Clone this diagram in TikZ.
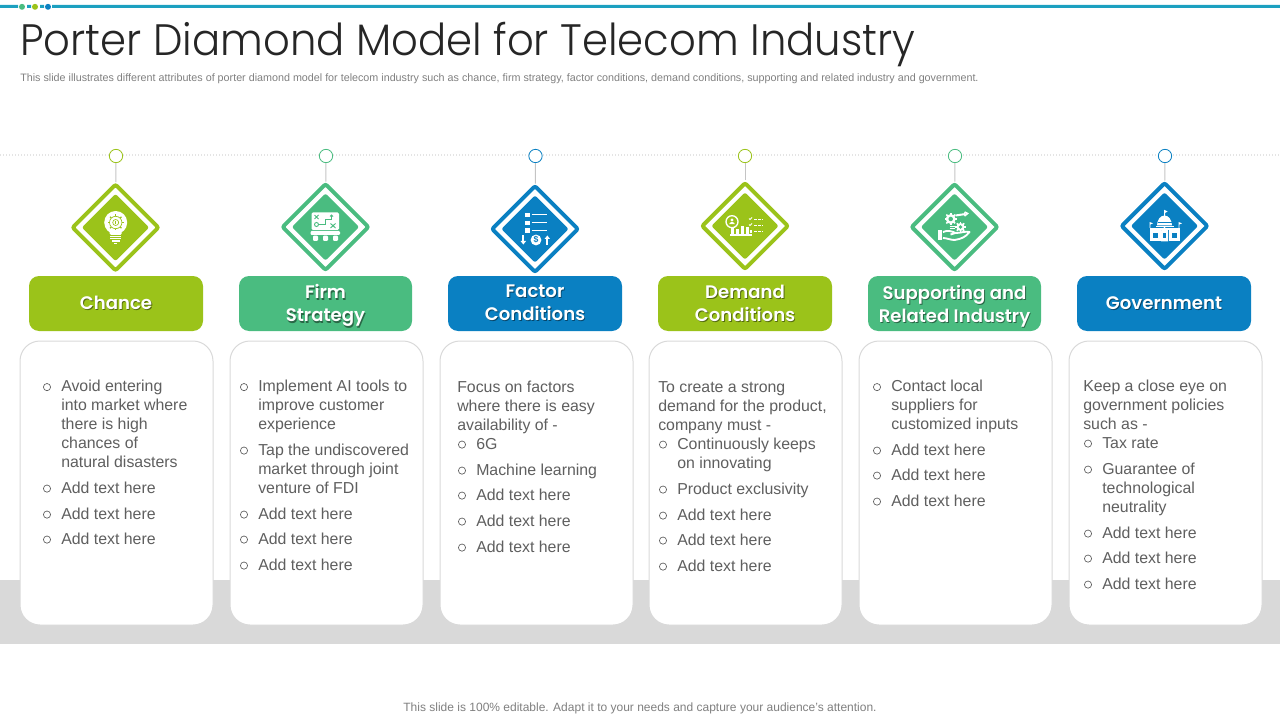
\documentclass[tikz,border=0pt]{standalone}
\usepackage{fontspec}
\usetikzlibrary{shapes.geometric}
\setmainfont{Liberation Sans}
\newfontfamily\titlefont[UprightFont={* Light},FakeStretch=0.95]{Poppins}
\newfontfamily\labelfont[UprightFont={* SemiBold}]{Poppins}
\definecolor{cg}{HTML}{9BC31A}
\definecolor{ct}{HTML}{4ABC80}
\definecolor{cb}{HTML}{0A80C2}
\definecolor{bodyc}{HTML}{5F5F5F}
\definecolor{noteg}{HTML}{7F7F7F}
\definecolor{band}{HTML}{D9D9D9}
\definecolor{bar}{HTML}{1CA0C0}
\definecolor{linkc}{HTML}{C4C4C4}
\tikzset{
  pin/.style={circle,draw=#1,fill=white,line width=.6pt,minimum size=10pt,inner sep=0pt},
  link/.style={draw=linkc,line width=.75pt},
  ring/.style={diamond,draw=#1,fill=white,line width=3pt,rounded corners=1.5pt,minimum width=65.5pt,minimum height=65.5pt,inner sep=0pt},
  core/.style={diamond,fill=#1,rounded corners=1.5pt,minimum width=50.5pt,minimum height=50.5pt,inner sep=0pt},
  labelbox/.style={fill=#1,rounded corners=7.5pt,inner sep=0pt,text=white,align=center,font=\labelfont\fontsize{13.6}{17.25}\selectfont},
  card/.style={draw=band,fill=white,line width=.75pt,rounded corners=15pt},
  bodytxt/.style={anchor=base west,inner sep=0pt,text=bodyc,font=\fontsize{11.9}{14.25}\selectfont},
  bulletmark/.style={circle,draw=bodyc,line width=.5pt,minimum size=5.4pt,inner sep=0pt},
  inkline/.style={draw=white,line width=1pt},
}
\newcommand{\shad}[2]{\leavevmode\rlap{\raisebox{-.9pt}{\hspace{.7pt}\textcolor{#1!55!black}{#2}}}#2}
\newcommand{\tallline}{\rule{0pt}{15pt}}
\newcommand{\para}[4]{\node[bodytxt] (#1) at (#2,#3) {\parbox[t]{150pt}{\raggedright #4}};}
\newcommand{\itm}[4]{\node[bulletmark] (b#1) at (#2,#3-4.4) {};
  \node[bodytxt] (#1) at (#2+14,#3) {\parbox[t]{150pt}{\raggedright #4}};}
\newcommand{\column}[8]{%
  % id, pin x, diamond x, diamond y, colour, box left, box right, label
  \node[pin=#5] (pin#1) at (#2,156) {};
  \node[ring=#5] (dia#1) at (#3,#4) {};
  \node[core=#5] (core#1) at (#3,#4) {};
  \draw[link] (pin#1) -- (dia#1);
  \node[labelbox=#5,minimum width={(#7-#6)*.75pt},minimum height=41.25pt] (lab#1) at ({(#6+#7)/2},303.5) {#8};
}
\newcommand{\gearicon}[5]{% x y r ring colour hole colour
  \foreach \a in {0,45,...,315}
    \draw[draw=#4,line width=1.2pt] ({#1+(#3-1)*cos(\a)},{#2+(#3-1)*sin(\a)}) -- ({#1+(#3+1.2)*cos(\a)},{#2+(#3+1.2)*sin(\a)});
  \fill[#4] (#1,#2) circle[radius=#3];
  \fill[#5] (#1,#2) circle[radius=#3*.45];
}
\begin{document}
\begin{tikzpicture}[x=.75pt,y=-.75pt]
\useasboundingbox (0,0) rectangle (1280,720);
% band and header
\fill[band] (0,580) rectangle (1280,644);
\fill[bar] (0,5) rectangle (18,8) (52,5) rectangle (1280,8);
\fill[bar] (27,5) rectangle (31,8) (40,5) rectangle (44,8);
\fill[ct] (22,6.8) circle[radius=3];
\fill[cg] (35,6.8) circle[radius=3];
\fill[cb] (48,6.8) circle[radius=3];
\draw[band!70,line width=1.5pt,dash pattern=on .75pt off 1.5pt] (0,155.5) -- (1280,155.5);
\node[anchor=base west,inner sep=0pt,text=black!85,font=\titlefont\fontsize{33}{36}\selectfont] (title) at (20,56) {Porter Diamond Model for Telecom Industry};
\node[anchor=base west,inner sep=0pt,text=noteg,font=\fontsize{8.06}{9}\selectfont] (sub) at (20,82) {This slide illustrates different attributes of porter diamond model  for telecom industry such as chance, firm strategy, factor conditions, demand conditions, supporting and related industry and government.};
\node[inner sep=0pt,text=noteg,font=\fontsize{9}{11}\selectfont] (foot) at (640,708.5) {This slide is 100\% editable. Adapt it to your needs and capture your audience's attention.};
% cards
\draw[card] (20,341) rectangle (213,625);
\draw[card] (230,341) rectangle (423,625);
\draw[card] (440,341) rectangle (633,625);
\draw[card] (649,341) rectangle (842,625);
\draw[card] (859,341) rectangle (1052,625);
\draw[card] (1069,341) rectangle (1262,625);
% columns
\column{A}{116}{115.5}{227.5}{cg}{29}{203}{\shad{cg}{Chance}}
\column{B}{326}{325.5}{227}{ct}{239}{412}{\tallline\shad{ct}{Firm}\\\shad{ct}{Strategy}}
\column{C}{535.5}{535}{229}{cb}{448}{622}{\shad{cb}{Factor}\\\shad{cb}{Conditions}}
\column{D}{745}{745}{226}{cg}{658}{832}{\shad{cg}{Demand}\\\shad{cg}{Conditions}}
\column{E}{955}{954.5}{227}{ct}{868}{1041}{\tallline\shad{ct}{Supporting and}\\\shad{ct}{Related Industry}}
\column{F}{1165}{1164.5}{226}{cb}{1077}{1251}{\shad{cb}{Government}}
% icon: bulb
\begin{scope}[shift={(115.7,227)}]
  \fill[white] (0,-4.5) circle[radius=11.5];
  \fill[white,rounded corners=1pt] (-6,2) rectangle (6,8);
  \foreach \a in {0,45,...,315}
    \draw[cg,line width=.9pt] ({5.5*cos(\a)},{-4.5+5.5*sin(\a)}) -- ({8*cos(\a)},{-4.5+8*sin(\a)});
  \fill[white] (0,-4.5) circle[radius=6.2];
  \draw[cg,line width=.5pt] (0,-4.5) circle[radius=6.2] (0,-4.5) circle[radius=3];
  \draw[cg,line width=.5pt] (0,-6) -- (0,-3);
  \fill[white] (-5.5,8.6) rectangle (5.5,10);
  \fill[white] (-5.5,11) rectangle (5.5,12.4);
  \fill[white] (-4,13.4) rectangle (4,14.8);
  \fill[white] (-1.7,15.6) rectangle (1.7,16.8);
\end{scope}
% icon: strategy board
\begin{scope}[shift={(325.5,227)}]
  \fill[white,rounded corners=1pt] (-14,-14.5) rectangle (13.5,3);
  \draw[ct,line width=.7pt] (-11,-12) -- (-7,-8) (-7,-12) -- (-11,-8);
  \draw[ct,line width=.7pt] (-9,-2.5) circle[radius=2];
  \draw[ct,line width=.7pt] (-6.5,-2.5) -- (0,-2.5) -- (0,-8) -- (6,-8);
  \draw[ct,line width=.7pt] (6,-12) -- (6,-7) (4.5,-10.5) -- (6,-12) -- (7.5,-10.5);
  \draw[ct,line width=.7pt] (5,-3.5) -- (10,1) (10,-3.5) -- (5,1);
  \fill[white,rounded corners=.8pt] (-15,4) rectangle (14.5,8);
  \fill[white,rounded corners=.8pt] (-12.5,8.6) rectangle (-7.5,14);
  \fill[white,rounded corners=.8pt] (-2.5,8.6) rectangle (2.5,14);
  \fill[white,rounded corners=.8pt] (7.5,8.6) rectangle (12.5,14);
\end{scope}
% icon: checklist and coin
\begin{scope}[shift={(535,229)}]
  \fill[white] (-10,-16.3) rectangle (-5,-11.7);
  \fill[white] (-10,-8) rectangle (-5,-3.6);
  \fill[white] (-10,-.7) rectangle (-5,3.7);
  \draw[inkline] (-3.3,-14.7) -- (11.7,-14.7) (-3.3,-6.7) -- (11.7,-6.7) (-3.3,1.7) -- (11.7,1.7);
  \fill[white] (1,11) circle[radius=5.4];
  \node[inner sep=0pt,text=cb,font=\bfseries\fontsize{6.5}{7}\selectfont] (coin) at (1,11) {\$};
  \draw[inkline,line width=1.3pt] (-11.7,6) -- (-11.7,13);
  \fill[white] (-14.5,12) -- (-8.9,12) -- (-11.7,15.5) -- cycle;
  \draw[inkline,line width=1.3pt] (12.3,9) -- (12.3,16);
  \fill[white] (9.5,10) -- (15.1,10) -- (12.3,6.5) -- cycle;
\end{scope}
% icon: demand
\begin{scope}[shift={(745,226)}]
  \draw[white,line width=1pt] (-13,-4.3) circle[radius=6];
  \fill[white] (-13,-6) circle[radius=1.7];
  \fill[white] (-15.8,-1.8) arc[start angle=180,end angle=360,x radius=2.8,y radius=2.2] -- cycle;
  \fill[white] (-14.5,2) rectangle (-11,9);
  \fill[white] (-9.5,3) rectangle (-6,9);
  \fill[white] (-4.5,0) rectangle (-1,9);
  \fill[white] (.5,1) rectangle (4,9);
  \fill[white] (-15,8.4) rectangle (7,9.6);
  \draw[white,line width=.6pt] (4,-7.5) -- (5,-6.5) -- (7,-8.5);
  \draw[white,line width=.6pt] (4,-1.5) -- (5,-.5) -- (7,-2.5);
  \fill[white] (4.5,4.5) rectangle (7,6.8);
  \draw[white,line width=.6pt,dash pattern=on 2pt off 1pt] (9,-7) -- (18,-7) (9,-1) -- (18,-1) (9,5.7) -- (18,5.7);
\end{scope}
% icon: hand and gears
\begin{scope}[shift={(954.5,227)}]
  \gearicon{-3.8}{-8}{5}{white}{ct}
  \draw[white,line width=1.5pt] (1,-11.5) -- (11,-13);
  \draw[white,line width=1.2pt] (10,-15) -- (13,-13.5) -- (10,-11);
  \gearicon{6}{0}{4}{white}{ct}
  \draw[white,line width=.6pt] (-5,-.5) -- (0,-.5) (-5,1.5) -- (0,1.5);
  \fill[white] (-16.5,3.5) rectangle (-12.5,13.5);
  \draw[white,line width=1.4pt,line join=round] (-11.5,5) .. controls (-7,3) and (-3,4) .. (1,6) -- (-4,7.5) (1,6) .. controls (7,6) and (10,4) .. (15,5) .. controls (11,10) and (7,12) .. (0,13) .. controls (-4,13) and (-8,11) .. (-11.5,11);
\end{scope}
% icon: government
\begin{scope}[shift={(1164.5,226)}]
  \fill[white] (0,-16) -- (3,-14.5) -- (.5,-13) -- (.5,-9) -- (-.5,-9) -- (-.5,-16) -- cycle;
  \fill[white] (-7.5,-.5) arc[start angle=180,end angle=360,x radius=7.5,y radius=10] -- cycle;
  \draw[cb,line width=.5pt] (-7,-4) -- (7,-4);
  \fill[white] (-9,.3) rectangle (9,1.5);
  \fill[white] (-15,2.3) rectangle (15.5,3.8);
  \fill[white] (-15,4.5) rectangle (-4,15.5);
  \fill[white] (4,4.5) rectangle (15.5,15.5);
  \fill[white] (-3.5,15.5) -- (-3.5,4.5) -- (0,.8) -- (3.5,4.5) -- (3.5,15.5) -- cycle;
  \fill[cb] (-12,7.5) rectangle (-7,12.5);
  \fill[cb] (7,7.5) rectangle (12.5,12.5);
  \fill[cb] (-1.7,7.5) rectangle (1.7,12.5);
  \fill[white] (-15,-4) -- (-15,2) -- (-14.2,2) -- (-14.2,-1.5) -- (-11.5,-2.7) -- cycle;
  \fill[white] (14,-4) -- (14,2) -- (14.8,2) -- (14.8,-1.5) -- (17.5,-2.7) -- cycle;
\end{scope}
% card A
\itm{a1}{47}{391.5}{Avoid entering\\into market where\\there is high\\chances of\\natural disasters}
\itm{a2}{47}{493}{Add text here}
\itm{a3}{47}{519}{Add text here}
\itm{a4}{47}{544}{Add text here}
% card B
\itm{b1}{244}{391.5}{Implement AI tools to\\improve customer\\experience}
\itm{b2}{244}{455}{Tap the undiscovered\\market through joint\\venture of FDI}
\itm{b3}{244}{519}{Add text here}
\itm{b4}{244}{544}{Add text here}
\itm{b5}{244}{570}{Add text here}
% card C
\para{c0}{457}{392}{Focus on factors\\where there is easy\\availability of -}
\itm{c1}{462}{449}{6G}
\itm{c2}{462}{475}{Machine learning}
\itm{c3}{462}{500}{Add text here}
\itm{c4}{462}{526}{Add text here}
\itm{c5}{462}{552}{Add text here}
% card D
\para{d0}{658}{392}{To create a strong\\demand for the product,\\company must -}
\itm{d1}{663}{449}{Continuously keeps\\on innovating}
\itm{d2}{663}{494}{Product exclusivity}
\itm{d3}{663}{520}{Add text here}
\itm{d4}{663}{545}{Add text here}
\itm{d5}{663}{571}{Add text here}
% card E
\itm{e1}{877}{391.5}{Contact local\\suppliers for\\customized inputs}
\itm{e2}{877}{455}{Add text here}
\itm{e3}{877}{480}{Add text here}
\itm{e4}{877}{506}{Add text here}
% card F
\para{f0}{1083}{391}{Keep a close eye on\\government policies\\such as -}
\itm{f1}{1088}{448}{Tax rate}
\itm{f2}{1088}{474}{Guarantee of\\technological\\neutrality}
\itm{f3}{1088}{538}{Add text here}
\itm{f4}{1088}{563}{Add text here}
\itm{f5}{1088}{589}{Add text here}
\end{tikzpicture}
\end{document}
